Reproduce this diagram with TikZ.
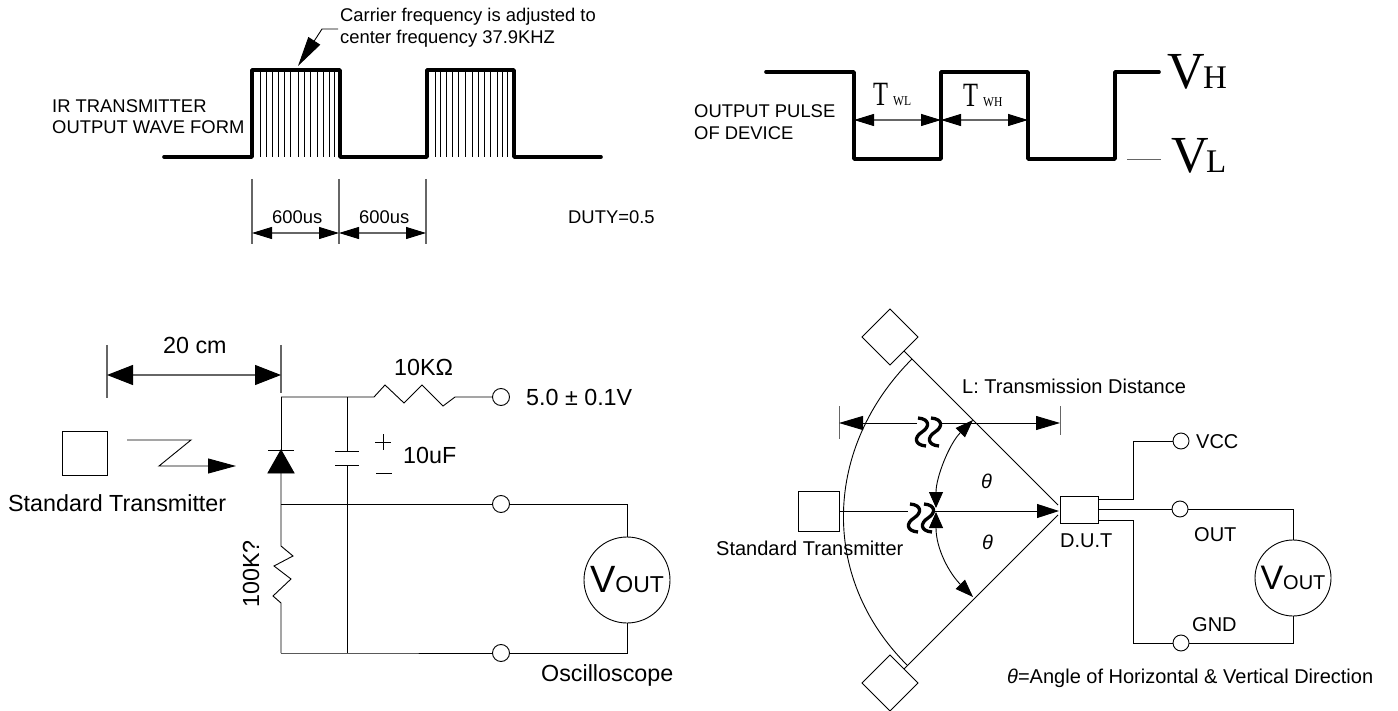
\documentclass[tikz,border=0pt]{standalone}
\usepackage{fontspec}
\setmainfont{Liberation Sans}
\newfontfamily\serifv{Liberation Serif}
\usetikzlibrary{arrows.meta}
\tikzset{
  txt/.style={inner sep=0pt,anchor=base west},
  fs/.style={font=\fontsize{18.4}{20}\selectfont},
  fm/.style={font=\fontsize{20}{22}\selectfont},
  fl/.style={font=\fontsize{23.3}{25}\selectfont},
  wave/.style={line width=3.6pt,line cap=round,line join=round},
  wire/.style={line width=.9pt},
  dim/.style={line width=1.1pt,black!60},
  dimar/.style={line width=1.1pt,black!60,{Triangle[length=20pt,width=12pt,black]}-{Triangle[length=20pt,width=12pt,black]}},
  term/.style={circle,draw,line width=.9pt,inner sep=0pt,minimum size=17pt},
  boxed/.style={draw,line width=.9pt,inner sep=0pt},
  meter/.style={circle,draw,line width=.9pt,inner sep=0pt},
  head/.style={-{Triangle[length=#1pt,width=14pt,black]}},
  brk/.pic={\draw[line width=3.3pt] (-4,1) .. controls (8,2) and (8,10) .. (0,15) .. controls (-8,20) and (-8,28) .. (4,29);}
}
\begin{document}
\begin{tikzpicture}[x=1pt,y=-1pt]
  \useasboundingbox (0,0) rectangle (1398,711);
  % carrier wave
  \foreach \hx in {260,266,272,278,284,290,298,304,310,317,323,329,334,435,440,446,452,458,465,472,478,484,490,497,502,507}
    \draw[line width=.7pt] (\hx,70) -- (\hx,157);
  \draw[wave] (164,157) -- (252,157) -- (252,70) -- (340,70) -- (340,157) -- (427,157) -- (427,70) -- (514,70) -- (514,157) -- (601,157);
  \node[txt,fs] (carrier) at (340,22) {Carrier frequency is adjusted to};
  \node[txt,fs] (center) at (340,44) {center frequency 37.9KHZ};
  \coordinate (ctip) at (298,66);
  \draw[wire,head=30] (338,29) -- (322,29) -- (ctip);
  \node[txt,fs] (irtx) at (52,113) {IR TRANSMITTER};
  \node[txt,fs] (irout) at (52,134) {OUTPUT WAVE FORM};
  \foreach \tx/\tn in {252/ta,339/tb,426/tc}{
    \coordinate (\tn) at (\tx,233);
    \draw[dim] (\tx,179) -- (\tx,244);
  }
  \draw[dimar] (ta) -- (tb);
  \draw[dimar] (tb) -- (tc);
  \node[txt,fs] (wa) at (272,224) {600us};
  \node[txt,fs] (wb) at (359,224) {600us};
  \node[txt,fs] (duty) at (568,224) {DUTY=0.5};
  % output pulse
  \draw[wave] (766,72) -- (854,72) -- (854,159) -- (941,159) -- (941,72) -- (1028,72) -- (1028,159) -- (1115,159) -- (1115,72) -- (1159,72);
  \draw[line width=.9pt,black!60] (1127,159) -- (1161,159);
  \node[txt,fs] (pulse) at (694,118) {OUTPUT PULSE};
  \node[txt,fs] (device) at (694,140) {OF DEVICE};
  \coordinate (pa) at (854,120);
  \coordinate (pb) at (941,120);
  \coordinate (pc) at (1028,120);
  \draw[dimar] (pa) -- (pb);
  \draw[dimar] (pb) -- (pc);
  \node[txt,font=\serifv\fontsize{34}{36}\selectfont] (twl) at (873,106) {\scalebox{.72}[1]{T}};
  \node[txt,font=\serifv\fontsize{13.6}{15}\selectfont] (wl) at (893,106) {\scalebox{.85}[1]{WL}};
  \node[txt,font=\serifv\fontsize{34}{36}\selectfont] (twh) at (963,107) {\scalebox{.72}[1]{T}};
  \node[txt,font=\serifv\fontsize{13.6}{15}\selectfont] (wh) at (983,107) {\scalebox{.85}[1]{WH}};
  \node[txt,font=\serifv\fontsize{52}{54}\selectfont] (vh) at (1167,89) {V};
  \node[txt,font=\serifv\fontsize{33}{35}\selectfont] (hh) at (1203,89) {H};
  \node[txt,font=\serifv\fontsize{52}{54}\selectfont] (vl) at (1171,173) {V};
  \node[txt,font=\serifv\fontsize{33}{35}\selectfont] (ll) at (1206,173) {L};
  % test circuit
  \coordinate (da) at (107,375);
  \coordinate (db) at (281,375);
  \draw[dim] (107,345) -- (107,398);
  \draw[dim] (281,345) -- (281,393);
  \draw[line width=1.1pt,black!60,{Triangle[length=26pt,width=20pt,black]}-{Triangle[length=26pt,width=20pt,black]}] (da) -- (db);
  \node[txt,fl] (dist) at (163,354) {20 cm};
  \node[boxed,minimum width=45pt,minimum height=44pt] (tx) at (84.5,453) {};
  \node[txt,fl] (txname) at (8,511) {Standard Transmitter};
  \draw[wire,-{Triangle[length=28pt,width=15pt,black]}] (127,440) -- (191,440) -- (159,466) -- (236,466);
  \coordinate (jt) at (281,397);
  \coordinate (jc) at (347,397);
  \coordinate (jm) at (281,504);
  \coordinate (jb) at (281,653);
  \coordinate (jd) at (347,653);
  \node[term] (vcc) at (501,397) {};
  \node[term] (vo) at (501,504) {};
  \node[term] (vg) at (501,653) {};
  \node[meter,minimum size=86pt,font=\fontsize{38}{40}\selectfont] (osc) at (627,580) {V{\fontsize{23}{25}\selectfont OUT}};
  \draw[wire] (jt) -- (jc) -- (374,397) -- (385,385) -- (404,403) -- (422,385) -- (443,406) -- (455,397) -- (vcc);
  \draw[wire] (jt) -- (281,450);
  \draw[wire,fill=black] (281,450) -- (268,473) -- (294,473) -- cycle;
  \draw[wire] (268,450) -- (294,450);
  \draw[wire] (281,473) -- (jm) -- (281,546) -- (293,556) -- (274,566) -- (291,579) -- (273,596) -- (281,603) -- (jb);
  \draw[wire] (jm) -- (vo);
  \draw[wire] (jb) -- (jd) -- (vg);
  \draw[wire] (jc) -- (347,451);
  \draw[wire] (335,451) -- (359,451);
  \draw[wire] (335,465) -- (359,465);
  \draw[wire] (347,465) -- (jd);
  \draw[wire] (vo) -- (vo -| osc) -- (osc);
  \draw[wire] (vg) -- (vg -| osc) -- (osc);
  \draw[line width=.8pt] (375,442) -- (391,442) (383,434) -- (383,450);
  \draw[line width=.8pt] (376,473) -- (392,473);
  \node[txt,fl] (cval) at (403,463) {10uF};
  \node[txt,fl] (rtop) at (394,375) {10KΩ};
  \node[txt,fl] (supply) at (526,406) {5.0 ± 0.1V};
  \node[inner sep=0pt,anchor=base,rotate=90,fl] (rbot) at (259,574) {100K?};
  \node[txt,fl] (oscname) at (541,681) {Oscilloscope};
  % angle set-up
  \node[boxed,minimum width=41pt,minimum height=40pt] (stx) at (818.5,511) {};
  \node[boxed,minimum width=38pt,minimum height=27pt] (dut) at (1079.5,509.5) {};
  \node[boxed,rotate=45,minimum size=39.6pt] (dtop) at (890,337) {};
  \node[boxed,rotate=45,minimum size=39.6pt] (dbot) at (890,683) {};
  \coordinate (ua) at (904,351);
  \coordinate (ub) at (1058,505);
  \coordinate (la) at (904,669);
  \coordinate (lb) at (1058,515);
  \draw[wire] (ua) -- (ub);
  \draw[wire] (la) -- (lb);
  \draw[wire] (912,359) .. controls (824,447) and (819,577) .. (907,665);
  \draw[dim,line width=1pt] (839,406) -- (839,439);
  \draw[dim,line width=1pt] (1060,406) -- (1060,435);
  \draw[wire,head=24] (917,423) -- (839,423);
  \draw[wire,head=24] (940,423) -- (1060,423);
  \draw[wire] (stx) -- (908,511);
  \draw[wire,head=22] (933,511) -- (1059,511);
  \foreach \sx/\sy in {922/417,935/417,914/503,928/503}
    \path (\sx,\sy) pic {brk};
  \draw[wire,{Triangle[length=16pt,width=14pt,black]}-{Triangle[length=18pt,width=13pt,black]}] (936,508) .. controls (936,477) and (949.4,443.6) .. (973,420);
  \draw[wire,{Triangle[length=16pt,width=14pt,black]}-{Triangle[length=18pt,width=13pt,black]}] (936,512) .. controls (936,549) and (949.4,573.4) .. (973,597);
  \node[txt,font=\fontsize{20}{22}\itshape\selectfont] (tha) at (981,488) {θ};
  \node[txt,font=\fontsize{20}{22}\itshape\selectfont] (thb) at (982,549) {θ};
  \node[txt,fm] (lname) at (962,393) {L: Transmission Distance};
  \node[txt,fm] (sname) at (716,555) {Standard Transmitter};
  \node[txt,fm] (dname) at (1060,547) {D.U.T};
  \node[txt,fm] (note) at (1007,683) {{\itshape θ}=Angle of Horizontal \& Vertical Direction};
  \node[term,minimum size=16pt] (tvcc) at (1181,441) {};
  \node[term,minimum size=16pt] (tout) at (1180,509) {};
  \node[term,minimum size=16pt] (tgnd) at (1181,643) {};
  \node[meter,minimum size=76pt,font=\fontsize{34}{36}\selectfont] (dso) at (1293,578) {V{\fontsize{20}{22}\selectfont OUT}};
  \node[txt,fm] (lvcc) at (1196,448) {VCC};
  \node[txt,fm] (lout) at (1194,541) {OUT};
  \node[txt,fm] (lgnd) at (1192,631) {GND};
  \draw[wire] (1098,499) -- (1133,499) -- (1133,441) -- (tvcc);
  \draw[wire] (1098,509) -- (tout);
  \draw[wire] (tout) -- (tout -| dso) -- (dso);
  \draw[wire] (1098,520) -- (1133,520) -- (1133,643) -- (tgnd);
  \draw[wire] (tgnd) -- (tgnd -| dso) -- (dso);
\end{tikzpicture}
\end{document}
